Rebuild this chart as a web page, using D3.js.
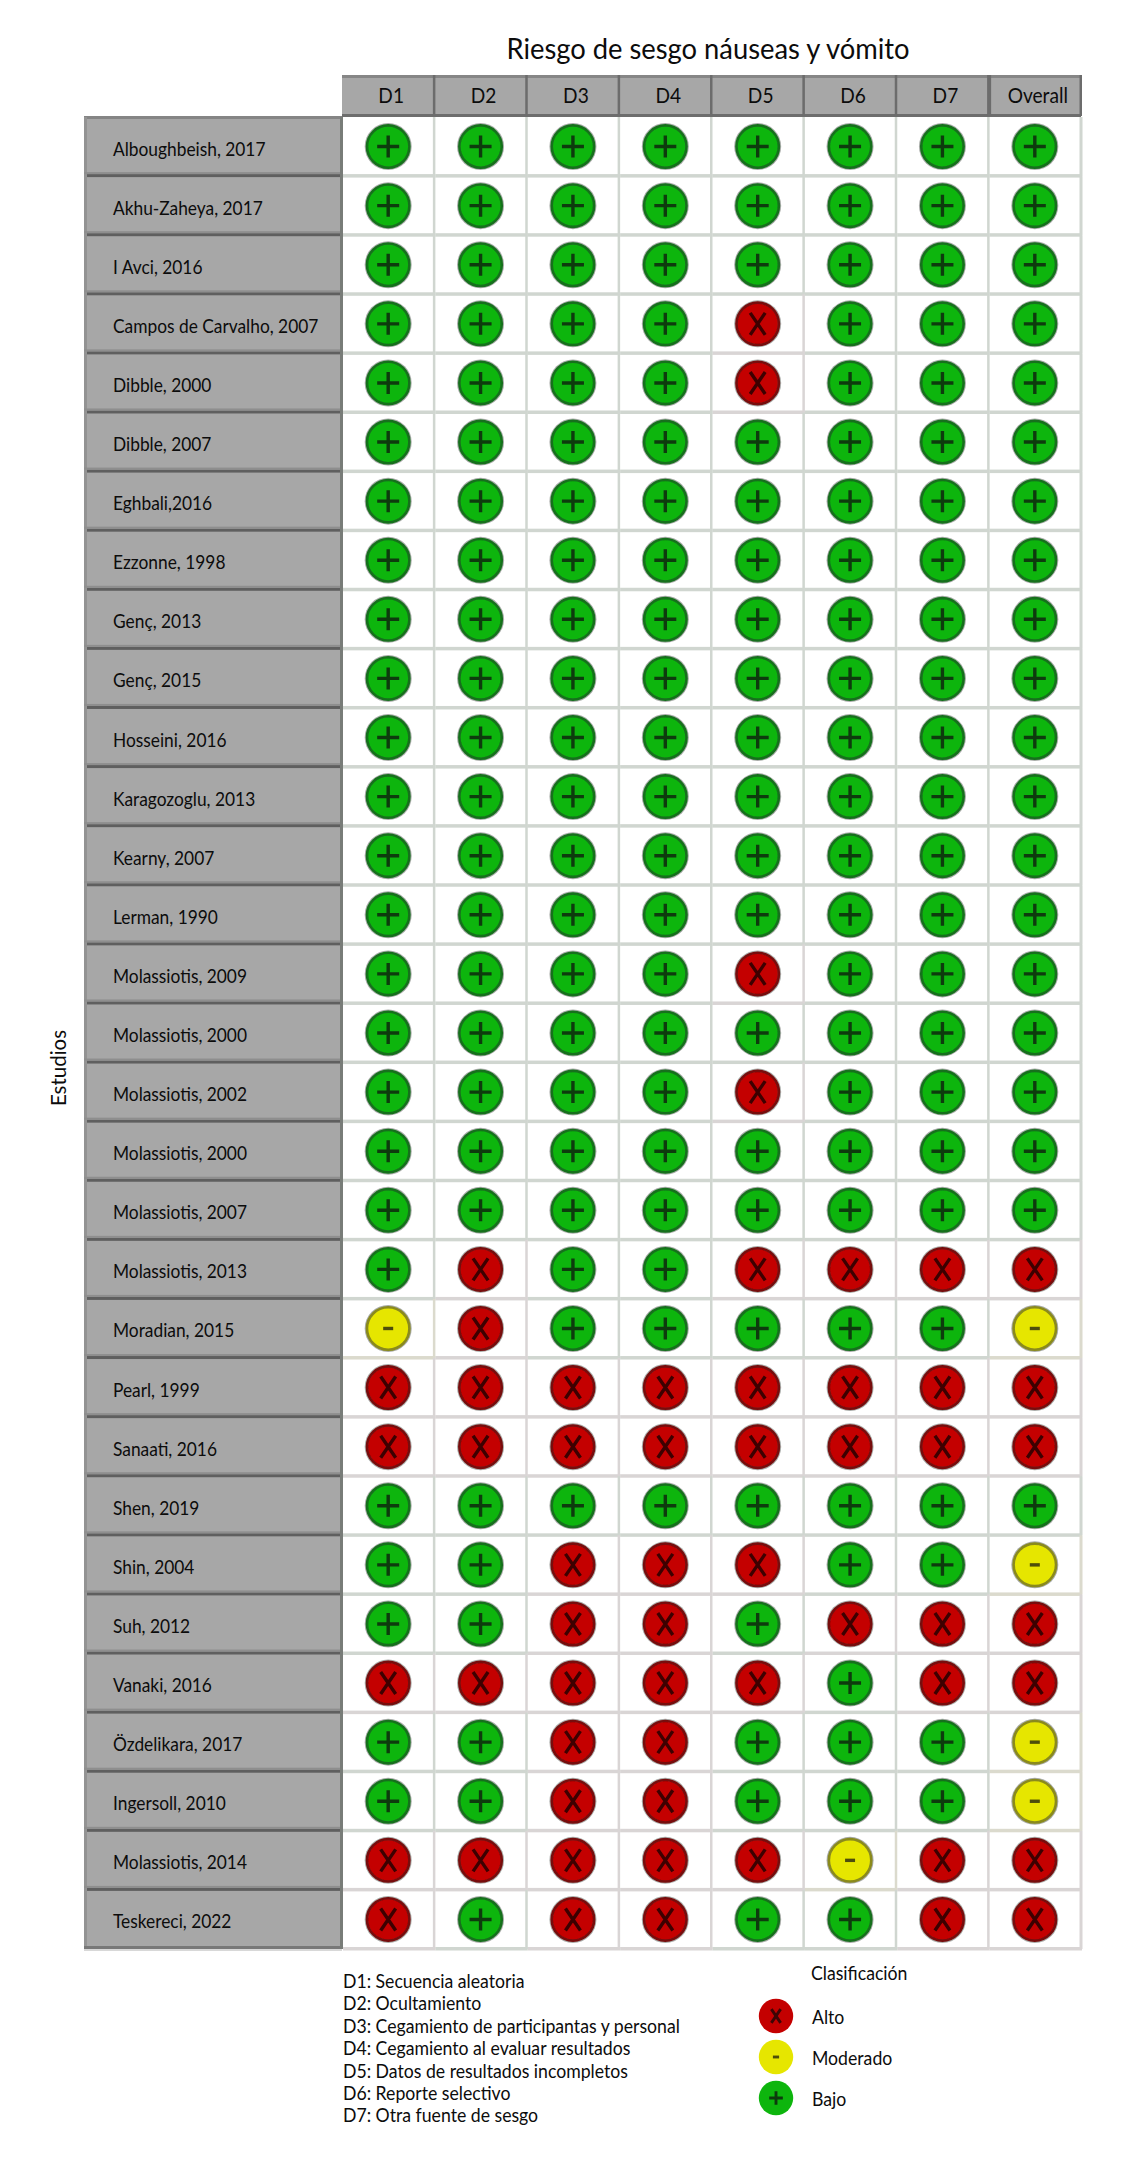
<!DOCTYPE html>
<html>
<head>
<meta charset="utf-8">
<script src="https://d3js.org/d3.v7.min.js"></script>
<style>
html, body { margin: 0; padding: 0; background: #fff; }
text { font-family: Lato, "Open Sans", sans-serif; fill: #0c0c0c; }
</style>
</head>
<body>
<div id="chart"></div>
<script>
var width = 1148,
    height = 2176;

// table values, one row per study: p = bajo, m = moderado, x = alto
var domains = ["D1", "D2", "D3", "D4", "D5", "D6", "D7", "Overall"];
var studies = [
    "Alboughbeish, 2017", "Akhu-Zaheya, 2017", "I Avci, 2016", "Campos de Carvalho, 2007",
    "Dibble, 2000", "Dibble, 2007", "Eghbali,2016", "Ezzonne, 1998", "Genç, 2013", "Genç, 2015",
    "Hosseini, 2016", "Karagozoglu, 2013", "Kearny, 2007", "Lerman, 1990", "Molassiotis, 2009",
    "Molassiotis, 2000", "Molassiotis, 2002", "Molassiotis, 2000 ", "Molassiotis, 2007",
    "Molassiotis, 2013", "Moradian, 2015", "Pearl, 1999", "Sanaati, 2016", "Shen, 2019",
    "Shin, 2004", "Suh, 2012", "Vanaki, 2016", "Özdelikara, 2017", "Ingersoll, 2010",
    "Molassiotis, 2014", "Teskereci, 2022"
];
var judgements = [
    "pppppppp", "pppppppp", "pppppppp", "ppppxppp", "ppppxppp", "pppppppp", "pppppppp", "pppppppp",
    "pppppppp", "pppppppp", "pppppppp", "pppppppp", "pppppppp", "pppppppp", "ppppxppp", "pppppppp",
    "ppppxppp", "pppppppp", "pppppppp", "pxppxxxx", "mxpppppm", "xxxxxxxx", "xxxxxxxx", "pppppppp",
    "ppxxxppm", "ppxxpxxx", "xxxxxpxx", "ppxxpppm", "ppxxpppm", "xxxxxmxx", "xpxxppxx"
];
var domainNotes = [
    "D1: Secuencia aleatoria", "D2: Ocultamiento", "D3: Cegamiento de participantas y personal",
    "D4: Cegamiento al evaluar resultados", "D5: Datos de resultados incompletos",
    "D6: Reporte selectivo", "D7: Otra fuente de sesgo"
];
var classes = [["x", "Alto"], ["m", "Moderado"], ["p", "Bajo"]];

var fills = { p: "#0bb50b", m: "#e6e600", x: "#c40404" };
var rims = { p: "#17701f", m: "#8a8a1e", x: "#770c0c" };
var marks = { p: "#0d3a0d", m: "#4d4d08", x: "#3d0505" };
var tints = { p: "#d0d6d0", m: "#dbdacd", x: "#d9d5d5" };

var svg = d3.select("#chart").append("svg")
    .attr("width", width)
    .attr("height", height)
    .style("display", "block");

var right = 1081, left = 84;
var top_y = 75;
var scaleX = d3.scaleBand().domain(domains).range([342, right]);
var scaleY = d3.scaleBand().domain(studies).range([117, 1949]);

// title and y label
svg.append("text")
    .attr("transform", "translate(708,59) scale(.96,1)")
    .attr("text-anchor", "middle")
    .style("font-size", "28.5px")
    .text("Riesgo de sesgo náuseas y vómito");

svg.append("text")
    .attr("transform", "translate(66,1068) rotate(-90) scale(.93,1)")
    .attr("text-anchor", "middle")
    .style("font-size", "22px")
    .text("Estudios");

// grey panels
svg.append("rect").attr("x", left).attr("y", 117).attr("width", 258).attr("height", 1832).attr("fill", "#a7a7a7");
svg.append("rect").attr("x", 342).attr("y", top_y).attr("width", right - 342).attr("height", 41).attr("fill", "#a7a7a7");
svg.append("rect").attr("x", 342).attr("y", top_y).attr("width", right - 342).attr("height", 3).attr("fill", "#868686");
svg.append("rect").attr("x", 342).attr("y", 114).attr("width", right - 342).attr("height", 3).attr("fill", "#6d6d6d");
svg.append("rect").attr("x", left).attr("y", 116).attr("width", 258).attr("height", 3).attr("fill", "#858585");
svg.append("rect").attr("x", left).attr("y", 117).attr("width", 3).attr("height", 1832).attr("fill", "#939393");
svg.append("rect").attr("x", left).attr("y", 1946).attr("width", 258).attr("height", 3).attr("fill", "#787878");
svg.append("rect").attr("x", left).attr("y", 1949).attr("width", 258).attr("height", 2).attr("fill", "#d8d8d8");
svg.append("rect").attr("x", 340).attr("y", 117).attr("width", 3).attr("height", 1832).attr("fill", "#787c78");

// header separators
svg.selectAll(".headSep").data(domains)
    .enter().append("rect")
    .attr("class", "headSep")
    .attr("x", function(d) { return scaleX(d) + scaleX.bandwidth() - 1.5; })
    .attr("y", top_y)
    .attr("width", function(d) { return d == "D7" ? 4 : 2.5; })
    .attr("height", 41)
    .attr("fill", "#6c6c6c");

// dark separators between the study labels
svg.selectAll(".rowSep").data(studies.slice(0, -1))
    .enter().append("rect")
    .attr("class", "rowSep")
    .attr("x", left + 3)
    .attr("y", function(d) { return scaleY(d) + scaleY.bandwidth() - 2; })
    .attr("width", 253)
    .attr("height", 3)
    .attr("fill", "#5f5f5f");
svg.selectAll(".rowSepSoft").data(studies.slice(0, -1))
    .enter().append("rect")
    .attr("class", "rowSepSoft")
    .attr("x", left)
    .attr("y", function(d) { return scaleY(d) + scaleY.bandwidth() - 4; })
    .attr("width", 256)
    .attr("height", 2)
    .attr("fill", "#8e8e8e");

// one entry per cell
var cells = [];
studies.forEach(function(s, i) {
    domains.forEach(function(d, j) {
        cells.push({ study: s, domain: d, value: judgements[i][j] });
    });
});

// light grid lines take a tint from the cell they belong to
var grid = svg.append("g");
grid.selectAll(".gridH").data(cells)
    .enter().append("rect")
    .attr("x", function(d) { return scaleX(d.domain) + 1; })
    .attr("y", function(d) { return scaleY(d.study) + scaleY.bandwidth() - 2; })
    .attr("width", scaleX.bandwidth())
    .attr("height", 3.5)
    .attr("fill", function(d) { return tints[d.value]; });
grid.selectAll(".gridV").data(cells)
    .enter().append("rect")
    .attr("x", function(d) { return scaleX(d.domain) + scaleX.bandwidth() - 1.5; })
    .attr("y", function(d) { return scaleY(d.study); })
    .attr("width", function(d) { return d.domain == "Overall" ? 3 : 2.5; })
    .attr("height", scaleY.bandwidth())
    .attr("fill", function(d) { return tints[d.value]; });

function drawGlyph(sel, value, k) {
    var p = d3.path();
    if (value == "p") {
        p.moveTo(-11 * k, 0); p.lineTo(11 * k, 0);
        p.moveTo(0, -11 * k); p.lineTo(0, 11 * k);
    } else if (value == "x") {
        p.moveTo(-7.5 * k, -11 * k); p.lineTo(7.5 * k, 11 * k);
        p.moveTo(7.5 * k, -11 * k); p.lineTo(-7.5 * k, 11 * k);
    } else {
        p.moveTo(-5 * k, 0); p.lineTo(5 * k, 0);
    }
    sel.append("path")
        .attr("d", p.toString())
        .attr("fill", "none")
        .attr("stroke", marks[value])
        .attr("stroke-width", 3.4 * Math.max(k, 0.85));
}

var defs = svg.append("defs");
defs.append("filter").attr("id", "soft")
    .append("feGaussianBlur").attr("stdDeviation", 0.6);

// judgement circles
var dots = svg.append("g").attr("filter", "url(#soft)")
    .selectAll(".dot").data(cells)
    .enter().append("g")
    .attr("class", "dot")
    .attr("transform", function(d) {
        return "translate(" + (scaleX(d.domain) + scaleX.bandwidth() / 2) + "," + (scaleY(d.study) + scaleY.bandwidth() / 2) + ")";
    });
dots.append("circle").attr("r", 23.5).attr("fill", "#a9aca9");
dots.append("circle").attr("r", 21.2)
    .attr("fill", function(d) { return fills[d.value]; })
    .attr("stroke", function(d) { return rims[d.value]; })
    .attr("stroke-width", 2.6);
dots.each(function(d) { drawGlyph(d3.select(this), d.value, 1); });

// axes for the header and the study names
var axisTop = d3.axisTop(scaleX).tickSize(0).tickPadding(0);
var headAxis = svg.append("g").attr("transform", "translate(3,103)").call(axisTop);
headAxis.select(".domain").remove();
headAxis.selectAll("text")
    .style("font-family", null)
    .style("font-size", "22px")
    .attr("y", 0).attr("dy", 0)
    .attr("transform", "scale(.87,1)");

var axisRows = d3.axisLeft(scaleY).tickSize(0).tickFormat(function(d) { return d.trim(); });
var rowAxis = svg.append("g").attr("transform", "translate(113,0)").call(axisRows);
rowAxis.select(".domain").remove();
rowAxis.selectAll("text")
    .attr("x", 0).attr("dy", 9)
    .attr("text-anchor", "start")
    .attr("transform", "scale(.89,1)")
    .style("font-family", null)
    .style("font-size", "19.5px");

// domain notes
svg.selectAll(".note").data(domainNotes)
    .enter().append("text")
    .attr("class", "note")
    .attr("transform", function(d, i) { return "translate(343," + (1988 + i * 22.4) + ") scale(.93,1)"; })
    .style("font-size", "19px")
    .text(function(d) { return d; });

// legend
svg.append("text")
    .attr("transform", "translate(811,1980) scale(.93,1)")
    .style("font-size", "19px")
    .text("Clasificación");
var legendY = d3.scalePoint().domain(classes.map(function(c) { return c[0]; })).range([2016, 2098]);
var legend = svg.selectAll(".legend").data(classes)
    .enter().append("g")
    .attr("class", "legend")
    .attr("transform", function(d) { return "translate(776," + legendY(d[0]) + ")"; });
legend.append("circle").attr("r", 17.2)
    .attr("fill", function(d) { return fills[d[0]]; })
    .attr("filter", "url(#soft)");
legend.each(function(d) { drawGlyph(d3.select(this), d[0], 0.62); });
legend.append("text")
    .attr("transform", "translate(36,8) scale(.93,1)")
    .style("font-size", "19px")
    .text(function(d) { return d[1]; });
</script>
</body>
</html>
